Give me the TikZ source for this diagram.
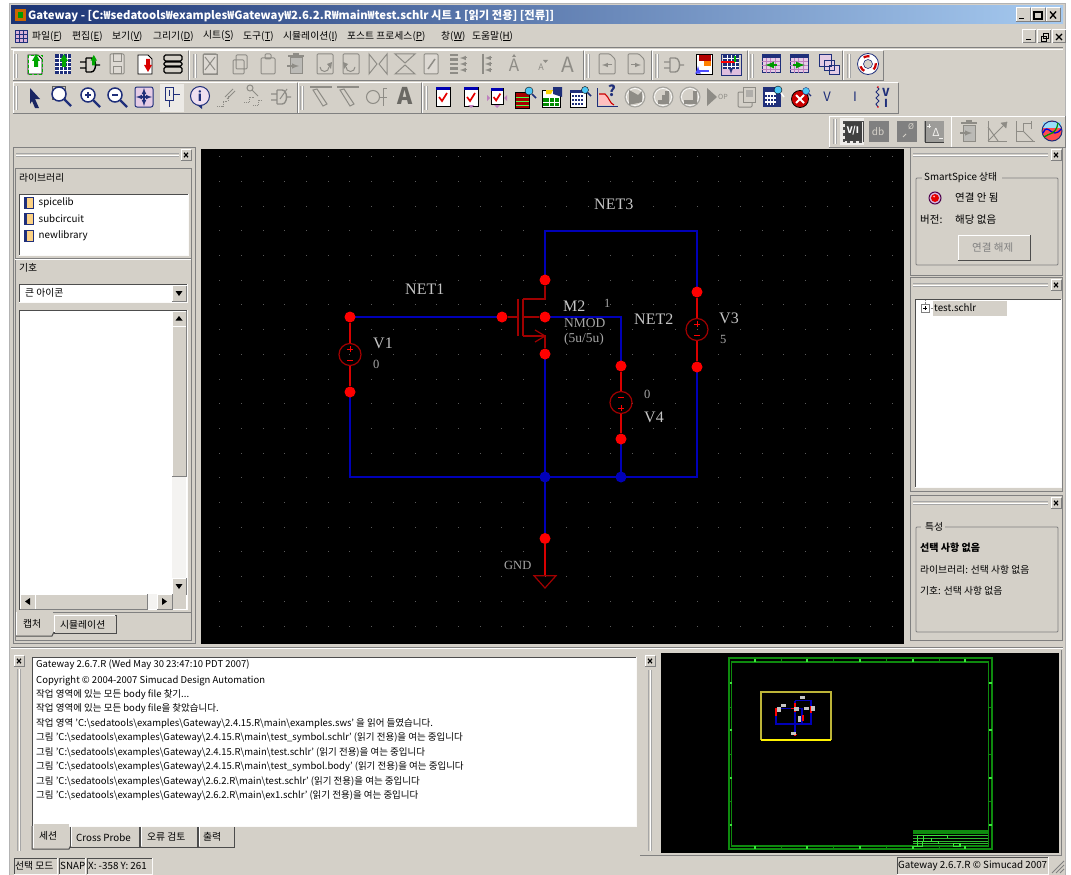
\documentclass[tikz,border=0pt]{standalone}
\usepackage{fontspec}
\setmainfont{Noto Sans CJK KR}
\newfontfamily\schfont{Liberation Serif}
\usetikzlibrary{calc}
\definecolor{uibg}{HTML}{D4D0C8}
\definecolor{uidk}{HTML}{808080}
\definecolor{uinavy}{HTML}{1F2F7A}
\definecolor{uigray}{HTML}{8E8C86}
\definecolor{pinred}{HTML}{FF0000}
\definecolor{symred}{HTML}{A00000}
\definecolor{wireblue}{HTML}{0000B8}
\definecolor{labelgray}{HTML}{C4C4C4}
\definecolor{gridgray}{HTML}{5A5A5A}
\definecolor{mgreen}{HTML}{0E8A0E}
\definecolor{lgreen}{HTML}{3CE63C}
\definecolor{titleL}{HTML}{1B3373}
\definecolor{titleR}{HTML}{A6CAF0}
\tikzset{
  ui/.style={inner sep=0pt,anchor=west,font=\fontsize{9.8}{11}\selectfont,text=black},
  uib/.style={ui,font=\fontsize{10}{11}\selectfont\bfseries},
  uil/.style={ui,font=\fontsize{9.5}{11}\selectfont},
  uir/.style={ui,font=\fontsize{10.5}{12}\selectfont},
  uig/.style={uir,text=uidk},
  sch/.style={inner sep=0pt,anchor=west,font=\fontsize{16}{18}\schfont,text=labelgray},
  schm/.style={inner sep=0pt,anchor=west,font=\fontsize{13.5}{15}\schfont,text=labelgray!85!black},
  schs/.style={inner sep=0pt,anchor=west,font=\fontsize{12.5}{14}\schfont,text=labelgray!85!black},
  pin/.style={circle,fill=pinred,draw=none,minimum size=11pt,inner sep=0pt},
  jun/.style={circle,fill=wireblue,draw=none,minimum size=11pt,inner sep=0pt},
  wire/.style={draw=wireblue,line width=1.2pt},
  redw/.style={draw=pinred!85!black,line width=1.2pt},
  sym/.style={draw=symred,line width=1.2pt},
  ic/.style={draw=uigray,line width=1pt},
  icd/.style={draw=uinavy,line width=1pt},
}
\newcounter{uicnt}
\newcommand{\UI}[4][ui]{\stepcounter{uicnt}\node[#1] (t\arabic{uicnt}) at (#2,#3) {#4};}
\newcommand{\raisedbox}[4]{%
  \fill[uibg] (#1,#2) rectangle (#3,#4);
  \draw[white,line width=1pt] (#1,#4) -- (#1,#2) -- (#3,#2);
  \draw[uidk,line width=1pt] (#3,#2) -- (#3,#4) -- (#1,#4);}
\newcommand{\sunkbox}[5][white]{%
  \fill[#1] (#2,#3) rectangle (#4,#5);
  \draw[uidk!60!black,line width=1pt] (#2,#5) -- (#2,#3) -- (#4,#3);
  \draw[white!90!uibg,line width=1pt] (#4,#3) -- (#4,#5) -- (#2,#5);}
\newcommand{\closebtn}[2]{%
  \raisedbox{#1-5}{#2-5.5}{#1+5}{#2+5.5}
  \draw[black,line width=1.2pt] (#1-2,#2-2.2) -- (#1+2,#2+2.2) (#1+2,#2-2.2) -- (#1-2,#2+2.2);}
\newcommand{\hgrip}[3]{% x1 x2 y
  \draw[uidk!70,line width=.6pt] (#1,#3-1.5) -- (#2,#3-1.5) (#1,#3+1.5) -- (#2,#3+1.5);
  \draw[white,line width=.8pt] (#1,#3) -- (#2,#3);}
\newcommand{\vgrip}[3]{% x y1 y2
  \draw[uidk!70,line width=.6pt] (#1-1.5,#2) -- (#1-1.5,#3) (#1+1.5,#2) -- (#1+1.5,#3);
  \draw[white,line width=.8pt] (#1,#2) -- (#1,#3);}
\newcommand{\groupbox}[4]{\draw[uidk,line width=.8pt,rounded corners=1pt] (#1,#2) rectangle (#3,#4);}
% icons: #1 x centre, #2 y centre
\newcommand{\icon}[3]{\begin{scope}[shift={(#1,#2)}]#3\end{scope}}
\newcommand{\uparr}[1]{\fill[#1] (-3,-3) -- (1,-10) -- (5,-3) -- (3,-3) -- (3,3) -- (-1,3) -- (-1,-3) -- cycle;}
\newcommand{\icpage}{\draw[black,line width=.8pt,fill=white] (-7,-9) -- (3,-9) -- (7,-5) -- (7,10) -- (-7,10) -- cycle;}
\newcommand{\icplug}[1]{\draw[#1,line width=1.4pt] (-10,-3) -- (-4,-3) (-10,3) -- (-4,3) (-4,-7) -- (-4,7) (-4,-7) -- (1,-7) .. controls (7,-7) and (7,7) .. (1,7) -- (-4,7) (5,0) -- (10,0);}
\newcommand{\icgrid}[1]{\fill[#1] (-8,-10) rectangle (8,10);
  \draw[white,line width=.4pt] (-8,-6) -- (8,-6) (-8,-2) -- (8,-2) (-8,2) -- (8,2) (-8,6) -- (8,6) (-4,-10) -- (-4,10) (0,-10) -- (0,10) (4,-10) -- (4,10);}
\newcommand{\icgpage}{\draw[ic,rounded corners=1pt,fill=uibg!80!white] (-7,-10) rectangle (7,10);}
\newcommand{\iccheck}{\draw[black,line width=.8pt,fill=white] (-7,-10) rectangle (7,9);
  \fill[blue!70!black] (-7,-10) rectangle (7,-7);
  \draw[red!90!black,line width=1.7pt] (-4,0) -- (-1,4) -- (4,-4);}
\newcommand{\icviolet}[1]{\draw[uinavy,line width=1pt,fill=violet!20!white] (-9,-9) rectangle (9,9);
  \fill[uinavy] (-9,-9) rectangle (9,-6);
  \draw[violet!50,line width=.3pt] (-9,-3) -- (9,-3) (-9,1) -- (9,1) (-9,5) -- (9,5) (-5,-6) -- (-5,9) (-1,-6) -- (-1,9) (4,-6) -- (4,9);#1}
\newcommand{\icmag}[1]{\draw[uinavy,line width=1.5pt,fill=white] (-2,-2) circle (7); \draw[uinavy,line width=2.4pt] (3,3) -- (10,10);#1}
\begin{document}
\begin{tikzpicture}[x=1pt,y=-1pt]
\useasboundingbox (0,0) rectangle (1071,875);
\fill[white] (0,0) rectangle (1071,875);
%% window
\fill[uibg] (9,3) rectangle (1065,875);
\draw[uidk!60,line width=.8pt] (9,875) -- (9,3) -- (1065,3) -- (1065,875);
\shade[left color=titleL,right color=titleR] (11,6) rectangle (1063,24);
\fill[orange!80!black] (15,9) rectangle (26,21);
\fill[green!60!black] (18,12) rectangle (23,18);
\UI[uib]{28}{15.5}{\fontsize{11.3}{13}\selectfont\color{white}Gateway - [C:₩sedatools₩examples₩Gateway₩2.6.2.R₩main₩test.schlr 시트 1 [읽기 전용] [전류]]}
\foreach \bx in {1023,1038,1053}{\raisedbox{\bx-7}{8}{\bx+7}{22}}
\draw[black,line width=1.6pt] (1019,18.5) -- (1024,18.5);
\draw[black,line width=1.1pt] (1034,12) rectangle (1042,19);
\draw[black,line width=1.3pt] (1050,11.5) -- (1056,18.5) (1056,11.5) -- (1050,18.5);
%% menu
\icon{21}{36}{\fill[violet!30] (-6,-6) rectangle (6,6);\draw[uinavy,line width=.4pt] (-6,-6) rectangle (6,6) (-6,-2) -- (6,-2) (-6,2) -- (6,2) (-2,-6) -- (-2,6) (2,-6) -- (2,6);}
\UI{32}{36}{파일(\underline{F})}
\UI{72}{36}{편집(\underline{E})}
\UI{112}{36}{보기(\underline{V})}
\UI{153}{36}{그리기(\underline{D})}
\UI{203}{36}{시트(\underline{S})}
\UI{243}{36}{도구(\underline{T})}
\UI{283}{36}{시뮬레이션(\underline{I})}
\UI{347}{36}{포스트 프로세스(\underline{P})}
\UI{441}{36}{창(\underline{W})}
\UI{472}{36}{도움말(\underline{H})}
\foreach \bx in {1029,1044,1059}{\raisedbox{\bx-6.5}{30}{\bx+6.5}{43}}
\draw[black,line width=1.5pt] (1026,39.5) -- (1031,39.5);
\draw[black,line width=.9pt] (1041,36) rectangle (1046,41) (1043,33.5) rectangle (1048,38.5);
\draw[black,line width=1.2pt] (1056,34) -- (1062,40) (1062,34) -- (1056,40);
\draw[uidk,line width=1pt] (11,48) -- (1063,48); \draw[white,line width=1pt] (11,49.2) -- (1063,49.2);
%% toolbar bands
\foreach \a/\b in {13/188,189/583,584/651,652/747,748/842,843/883}{\raisedbox{\a}{51}{\b}{81}}
\foreach \a/\b in {13/297,298/421,422/898}{\raisedbox{\a}{83}{\b}{113}}
\raisedbox{829}{116}{951}{147}
\raisedbox{951}{116}{1065}{147}
\foreach \gx in {16,195,588,657,752,849}{\vgrip{\gx}{54}{78}}
\foreach \gx in {16,302,426}{\vgrip{\gx}{86}{110}}
\vgrip{835}{119}{144}
%% row 1
\icon{35}{64}{\icpage\draw[green!70!black,densely dashed,line width=.8pt] (-7,-9) rectangle (7,10);\uparr{green!65!black}}
\icon{63}{64}{\icgrid{uinavy}\uparr{green!65!black}}
\icon{90}{65}{\icplug{black}\begin{scope}[shift={(3,-2)},scale=.8]\uparr{green!65!black}\end{scope}}
\icon{117}{64}{\icgpage\draw[ic] (-4,-10) rectangle (4,-2) (-4,3) rectangle (4,10);}
\icon{145}{64}{\icpage\begin{scope}[yscale=-1,shift={(2,2)}]\uparr{red!85!black}\end{scope}}
\icon{173}{64}{\draw[black,line width=1.2pt,rounded corners=1.5pt] (-9,-9) rectangle (9,-3) (-9,-2) rectangle (9,2) (-9,3) rectangle (9,9);}
\icon{210}{64}{\icgpage\draw[ic] (-5,-7) -- (5,6) (5,-7) -- (-5,6);\draw[ic,line width=.5pt] (-7,-10) rectangle (7,10);}
\icon{240}{64}{\draw[ic,rounded corners=1pt] (-4,-9) rectangle (7,5) (-7,-4) rectangle (4,10);}
\icon{268}{64}{\draw[ic,rounded corners=1pt] (-7,-6) rectangle (7,10) (-3,-10) rectangle (3,-5);}
\icon{296}{64}{\draw[ic,fill=uigray!60] (-6,-6) rectangle (6,10);\draw[ic,line width=1.6pt] (-8,-8) -- (8,-8) (-3,-10) -- (3,-10);\draw[uigray,line width=1.4pt,-latex] (-9,2) -- (3,2);}
\icon{324}{64}{\draw[ic,rounded corners=1pt] (-7,-10) rectangle (9,10);\draw[ic] (-4,3) arc (180:0:4.5);\fill[uigray] (3,0) -- (7,5) -- (8,-2) -- cycle;}
\icon{351}{64}{\draw[ic,rounded corners=1pt] (-8,-10) rectangle (8,10);\draw[ic] (4,3) arc (0:180:4.5);\fill[uigray] (-3,0) -- (-7,5) -- (-8,-2) -- cycle;}
\icon{378}{64}{\draw[ic] (-9,-10) -- (-9,10) -- (-1,0) -- cycle (9,-10) -- (9,10) -- (1,0) -- cycle;}
\icon{405}{64}{\draw[ic] (-10,-10) -- (10,-10) -- (0,-1) -- cycle (-10,10) -- (10,10) -- (0,1) -- cycle;}
\icon{431}{64}{\icgpage\draw[ic,line width=1.5pt] (-3,5) -- (4,-5);}
\icon{459}{64}{\draw[ic,line width=2.6pt] (-9,-9) -- (-1,-9) (-9,-4.5) -- (-1,-4.5) (-9,0) -- (-1,0) (-9,4.5) -- (-1,4.5) (-9,9) -- (-1,9);\draw[uigray,line width=1pt,-latex] (8,-6) -- (1,-6);\draw[uigray,line width=1pt,-latex] (8,0) -- (1,0);\draw[uigray,line width=1pt,-latex] (8,6) -- (1,6);}
\icon{488}{64}{\draw[ic,line width=1.3pt] (-5,-10) -- (-5,10);\draw[uigray,line width=1pt,-latex] (4,-6) -- (-3,-6);\draw[uigray,line width=1pt,-latex] (4,0) -- (-3,0);\draw[uigray,line width=1pt,-latex] (4,6) -- (-3,6);}
\icon{514}{65}{\node[inner sep=0pt,text=uigray,font=\fontsize{17}{17}\selectfont] (ia1) at (0,0) {A};\fill[uigray] (-2,-8) -- (2,-8) -- (0,-11) -- cycle;}
\icon{541}{67}{\node[inner sep=0pt,text=uigray,font=\fontsize{9}{9}\selectfont] (ia2) at (0,0) {A};\fill[uigray] (2,-7) -- (7,-7) -- (4.5,-4) -- cycle;}
\icon{568}{65}{\node[inner sep=0pt,text=uigray,font=\fontsize{21}{21}\selectfont] (ia3) at (0,0) {A};}
\icon{607}{64}{\draw[ic,rounded corners=1pt] (-8,-10) -- (3,-10) -- (8,-5) -- (8,10) -- (-8,10) -- cycle;\draw[uigray,line width=1pt,-latex] (5,1) -- (-5,1);}
\icon{636}{64}{\draw[ic,rounded corners=1pt] (-8,-10) -- (3,-10) -- (8,-5) -- (8,10) -- (-8,10) -- cycle;\draw[uigray,line width=1pt,-latex] (-5,1) -- (5,1);}
\icon{674}{65}{\icplug{uigray}}
\icon{704}{64}{\draw[black,line width=.8pt,fill=white] (-8,-10) rectangle (8,10);\fill[red!70!black] (-5,-9) rectangle (7,-3);\fill[orange] (0,-3) rectangle (7,2);\draw[blue!70,line width=1.6pt,-latex] (5,7) -- (-6,7) -- (-6,2);}
\icon{731}{64}{\icgrid{uinavy}\fill[violet!25] (-10,5) rectangle (10,11);\draw[uinavy] (-10,-10) rectangle (10,11);\draw[red,line width=1.7pt] (-10,-2) -- (4,-2);\draw[green!70!black,line width=1.7pt] (4,-2) -- (4,-8);\draw[uinavy,line width=1pt,-latex] (0,5) -- (0,10);}
\icon{771}{64}{\icviolet{\draw[green!60!black,line width=2pt,-latex] (6,1) -- (-6,1);}}
\icon{799}{64}{\icviolet{\draw[green!60!black,line width=2pt,-latex] (-6,1) -- (6,1);}}
\icon{829}{64}{\draw[uinavy,line width=.8pt,fill=violet!20!white] (-10,-10) rectangle (2,2) (-5,-4) rectangle (5,6) (0,1) rectangle (10,10);}
\icon{868}{64}{\draw[uinavy,line width=.8pt,fill=white] circle (10.5);\draw[red!80!black,line width=2.2pt,dash pattern=on 6pt off 10pt] circle (7.8);\fill[uibg] circle (4.5);\draw[uinavy,line width=.6pt] circle (4.5);}
%% row 2
\icon{34}{98}{\fill[uinavy!80!black] (-4,-10) -- (6,1) -- (1,1) -- (5,10) -- (1,10) -- (-2,3) -- (-4,6) -- cycle;}
\icon{61}{96}{\draw[uidk!70!black,line width=.8pt] (-9,-10) rectangle (4,3);\icmag{}}
\icon{90}{97}{\icmag{\draw[uinavy,line width=1.5pt] (-5,-2) -- (1,-2) (-2,-5) -- (-2,1);}}
\icon{117}{97}{\icmag{\draw[uinavy,line width=1.5pt] (-5,-2) -- (1,-2);}}
\icon{144}{97}{\draw[uinavy,line width=1pt,fill=violet!20!white,rounded corners=2pt] (-9,-10) rectangle (9,10);\draw[uinavy,line width=1.1pt,latex-latex] (-8,0) -- (8,0);\draw[uinavy,line width=1.1pt,latex-latex] (0,-9) -- (0,9);}
\fill[white!55!uibg] (160,84) rectangle (184,112);
\icon{171}{97}{\draw[uinavy,line width=1pt] (-6,-10) rectangle (2,3);\draw[uinavy,line width=1pt] (-2,-7) -- (-2,-1) (2,-3) -- (9,-3) (-2,3) -- (-2,10);}
\icon{200}{96}{\draw[uinavy,line width=1pt,fill=violet!12!white] circle (9.5);\node[inner sep=0pt,text=uinavy,font=\fontsize{13}{13}\selectfont\bfseries] (ii) at (0,0) {i};\fill[uinavy] (-3,9) -- (2,9) -- (2,13) -- cycle;}
\icon{226}{97}{\draw[ic,line width=.8pt,densely dotted] (-9,9) -- (-3,9) -- (-3,4) -- (2,4) -- (2,-1);\draw[ic] (-1,0) -- (7,-8);\draw[ic] (1,2) -- (9,-6);}
\icon{253}{97}{\draw[ic,line width=.8pt,densely dotted] (-9,5) -- (-4,5) -- (-4,0) -- (1,0);\draw[ic,line width=.8pt,densely dotted] (0,8) -- (5,8) -- (5,3) -- (9,3);\draw[ic] (-3,-9) circle (3);\draw[ic] (-1,-7) -- (5,-1);}
\icon{281}{97}{\icplug{uigray}\draw[ic] (-1,2) -- (6,-8);}
\icon{321}{97}{\draw[ic,line width=1.4pt] (-11,-10) -- (11,-10);\draw[ic] (-8,-7) -- (2,9) -- (6,7) -- (-4,-8) -- cycle;}
\icon{348}{97}{\draw[ic,line width=2pt] (-11,-10) -- (11,-10);\draw[ic] (-8,-7) -- (2,9) -- (6,7) -- (-4,-8) -- cycle;}
\icon{376}{97}{\draw[ic] (-3,0) circle (6.5);\draw[ic] (3.5,0) -- (11,0) (7,0) -- (7,-9) -- (11,-9) (7,0) -- (7,9);}
\icon{405}{96}{\node[inner sep=0pt,text=uigray!75!black,font=\fontsize{23}{23}\selectfont\bfseries] (ia4) at (0,0) {A};}
\icon{443}{97}{\iccheck}
\icon{471}{97}{\iccheck\fill[violet!50] (-3,8) -- (3,8) -- (0,11) -- cycle;}
\icon{497}{97}{\begin{scope}[scale=.85]\iccheck\end{scope}\fill[violet!50] (-10,-2) -- (-7,1) -- (-10,4) -- cycle (10,-2) -- (7,1) -- (10,4) -- cycle (-3,8) -- (3,8) -- (0,11) -- cycle;}
\icon{524}{98}{\fill[red!65!black] (-9,-6) rectangle (5,10);\draw[green!70,line width=.5pt] (-9,-1) -- (5,-1) (-9,3) -- (5,3) (-9,7) -- (5,7);\draw[black,line width=.7pt] (-9,-6) rectangle (5,10);\fill[cyan!70] (5,-7) circle (4);\draw[black] (5,-7) circle (4);\draw[uinavy,line width=1.5pt] (8,-4) -- (12,0);}
\icon{551}{97}{\draw[black,line width=.8pt,fill=white] (-9,-7) rectangle (9,10);\fill[green!55!black] (-8,1) rectangle (8,9);\draw[white,line width=.8pt] (-8,5) -- (8,5) (-2,1) -- (-2,9) (3,1) -- (3,9);\fill[uinavy] (2,-10) -- (11,-10) -- (11,0) -- (2,-3) -- cycle;\fill[yellow!70!orange] (-5,-7) -- (2,-7) -- (0,-3) -- (-5,-3) -- cycle;}
\icon{579}{97}{\draw[black,line width=.8pt,fill=white] (-9,-7) rectangle (7,10);\fill[uinavy] (-9,-7) rectangle (7,-4);\draw[uinavy,line width=1.2pt,dash pattern=on 2pt off 1pt] (-7,-1) -- (5,-1) (-7,3) -- (5,3) (-7,7) -- (5,7);\fill[cyan!70] (6,-7) circle (3.5);\draw[black] (6,-7) circle (3.5);\draw[uinavy,line width=1.5pt] (8.5,-4.5) -- (12,-1);}
\icon{607}{97}{\fill[red!25] (-8,-3) -- (-2,-3) .. controls (2,0) and (3,7) .. (7,8) -- (-8,8) -- cycle;\draw[red!80!black,line width=1.1pt] (-8,-3) -- (-2,-3) .. controls (2,0) and (3,7) .. (7,8);\draw[uinavy,line width=1pt] (-10,-9) -- (-10,9) -- (11,9);\node[inner sep=0pt,text=uinavy,font=\fontsize{15}{15}\selectfont\bfseries] (iq) at (5,-6) {?};}
\foreach \cx in {635,663,690}{\icon{\cx}{97}{\draw[uigray!80,line width=1pt,fill=uibg] circle (10);\draw[white,line width=.7pt] circle (8.5);}}
\icon{635}{97}{\fill[uigray] (-6,-7) -- (3,-2) -- (7,-6) -- (7,5) -- (-6,8) -- cycle;}
\icon{663}{97}{\fill[uigray] (-5,7) -- (-5,3) -- (-1,3) -- (-1,-2) -- (2,-2) -- (2,-6) -- (6,-6) -- (6,7) -- cycle;}
\icon{690}{97}{\fill[uigray] (-6,7) -- (-6,3) -- (3,3) -- (3,-6) -- (7,-6) -- (7,7) -- cycle;}
\icon{716}{97}{\fill[uigray] (-9,-9) -- (1,0) -- (-9,9) -- cycle;\node[inner sep=0pt,text=uigray,font=\fontsize{7}{7}\selectfont] (iop) at (7,0) {OP};}
\icon{746}{97}{\draw[ic,rounded corners=1pt] (-8,-5) rectangle (6,10);\draw[ic,fill=uibg] (-3,-10) rectangle (9,5);\fill[uigray!70] (0,-7) rectangle (7,0);}
\icon{773}{97}{\fill[uinavy] (-10,-10) rectangle (8,10);\fill[white] (-8,-5) rectangle (3,8);\draw[uinavy,line width=1.2pt,dash pattern=on 2pt off 1pt] (-8,-1) -- (3,-1) (-8,3) -- (3,3) (-8,7) -- (3,7);\fill[cyan!70] (5,-7) circle (4);\draw[black] (5,-7) circle (4);\draw[white,line width=1.5pt] (8,-4) -- (11,0);}
\icon{800}{99}{\fill[red!80!black] circle (8.5);\draw[black,line width=.8pt] circle (8.5);\draw[white,line width=2pt] (-4,-4) -- (4,4) (4,-4) -- (-4,4);\fill[cyan!70] (6,-8) circle (3.5);\draw[uinavy] (6,-8) circle (3.5);\draw[uinavy,line width=1.2pt] (8.5,-5.5) -- (11,-3);}
\icon{827}{97}{\node[inner sep=0pt,text=uinavy,font=\fontsize{13}{13}\selectfont] (iv) at (0,0) {V};}
\icon{855}{97}{\node[inner sep=0pt,text=uinavy,font=\fontsize{13}{13}\selectfont] (ii2) at (0,0) {I};}
\icon{882}{97}{\draw[uinavy,line width=1pt] (-5,-10) -- (-3,-8) -- (-6,-5) -- (-3,-2) -- (-6,1) -- (-3,4) -- (-6,7) -- (-4,10);\fill[red] (-4,-10) circle (.9) (-4,10) circle (.9);\node[inner sep=0pt,text=uinavy,font=\fontsize{11}{11}\selectfont\bfseries] (iv2) at (4,-5) {V};\node[inner sep=0pt,text=uinavy,font=\fontsize{11}{11}\selectfont\bfseries] (ii3) at (4,6) {I};}
%% row 3
\fill[white!60!uibg] (840,118) rectangle (864,145);
\icon{853}{131}{\draw[black!70,line width=1.3pt,dashed] (-9,-10) -- (-9,11) -- (10,11);\draw[black!70,line width=1pt] (-9,-10) -- (10,-10) -- (10,11);\fill[uidk!50!black] (-8,-9) rectangle (9,10);\node[inner sep=0pt,text=white,font=\fontsize{9}{9}\selectfont\bfseries] (ivi) at (0,0) {V/I};}
\icon{879}{131}{\fill[uidk] (-10,-10) rectangle (10,11);\node[inner sep=0pt,text=uibg,font=\fontsize{10}{10}\selectfont] (idb) at (-1,1) {db};}
\icon{907}{131}{\fill[uidk] (-10,-10) rectangle (10,11);\draw[uibg,line width=1pt] (-4,6) -- (-1,3);\node[inner sep=0pt,text=uibg,font=\fontsize{8}{8}\selectfont] (ip) at (4,-4) {Ø};}
\icon{934}{131}{\fill[uidk!65!uibg] (-10,-10) rectangle (10,11);\draw[uidk!50!black,line width=1pt] (-9,-10) -- (-9,11) -- (10,11);\node[inner sep=0pt,text=uibg!30!white,font=\fontsize{11}{11}\selectfont] (id) at (2,1) {Δ};\draw[uibg!30!white,line width=.8pt] (-7,-5) -- (-3,-5) (-5,-7) -- (-5,-3);\draw[uibg!30!white,line width=.8pt] (5,7) -- (9,7);}
\icon{969}{131}{\draw[ic,fill=uigray!60] (-6,-6) rectangle (6,10);\draw[ic,line width=1.6pt] (-8,-8) -- (8,-8) (-3,-10) -- (3,-10);\draw[uigray,line width=1.4pt,-latex] (-9,2) -- (3,2);}
\icon{997}{131}{\draw[ic] (-9,-10) -- (-9,10) -- (10,10);\draw[ic] (-9,10) -- (10,-9);\draw[ic] (-9,-4) -- (1,10);\draw[uigray,fill=uigray] (10,-9) -- (4,-8) -- (9,-3) -- cycle;}
\icon{1025}{131}{\draw[ic] (-9,-10) -- (-9,10) -- (10,10);\draw[ic] (-9,0) -- (-2,0) -- (-2,-8) -- (6,-8);\draw[ic] (-2,0) -- (8,10);\draw[ic] (6,-10) -- (6,-2);}
\icon{1052}{131}{\fill[red!70] circle (10);\fill[cyan!40] (-9,-3) rectangle (9,-9);\draw[uinavy,line width=1pt] circle (10);\draw[blue!90!black,line width=1.3pt] (-9,2) .. controls (-4,-10) and (0,10) .. (9,-2);\draw[green!60!black,line width=1.3pt] (-8,6) .. controls (-3,2) and (4,4) .. (6,-8);}
%% left panel
\draw[uidk,line width=1pt] (13,147) rectangle (195,643);
\hgrip{16}{179}{155}
\closebtn{186}{155}
\draw[uidk,line width=1pt] (15,168) rectangle (191,640);
\UI{19}{178}{라이브러리}
\sunkbox{19}{194}{188}{255}
\foreach \ly/\ltxt in {203/spicelib,219/subcircuit,236/newlibrary}{
  \fill[uinavy] (24,\ly-6) rectangle (34,\ly+6);
  \fill[yellow!25!orange!45!white] (27,\ly-5) rectangle (33,\ly+5);
  \UI{38.5}{\ly}{\ltxt}}
\draw[uidk,line width=1pt] (15,258) -- (191,258); \draw[white,line width=1pt] (15,259.2) -- (191,259.2);
\UI{19}{268}{기호}
\sunkbox{19}{284}{187}{302}
\UI{25}{293}{큰 아이콘}
\raisedbox{172}{285.5}{186}{301}
\fill[black] (175.5,291) -- (182.5,291) -- (179,296) -- cycle;
\sunkbox{19}{310}{187}{610}
\fill[uibg] (172,311) rectangle (186,594);
\fill[white!75!uibg] (172,476) rectangle (186,578);
\raisedbox{172}{311}{186}{326}
\fill[black] (175.5,320.5) -- (182.5,320.5) -- (179,316) -- cycle;
\raisedbox{172}{326}{186}{476}
\raisedbox{172}{578}{186}{594}
\fill[black] (175.5,584) -- (182.5,584) -- (179,589) -- cycle;
\fill[uibg] (20,594) rectangle (186,609);
\fill[white!75!uibg] (147,594) rectangle (157,609);
\raisedbox{20}{594}{35}{609}
\fill[black] (30,598) -- (30,605) -- (25,601.5) -- cycle;
\raisedbox{35}{594}{147}{609}
\raisedbox{157}{594}{172}{609}
\fill[black] (162,598) -- (162,605) -- (167,601.5) -- cycle;
\fill[uibg] (16,610) rectangle (190,639);
\draw[uidk,line width=1pt] (15,612) -- (191,612);
\fill[uibg] (16.5,610) rectangle (52.5,636);
\draw[white,line width=1pt] (16,612) -- (16,635);
\draw[black!70,line width=1pt] (16,636) -- (52,636) -- (54,632);
\draw[black!70,line width=1pt] (54,615) -- (54,633) -- (116,633) -- (116,615) -- (54,615);
\fill[uibg] (54.5,615.5) rectangle (115.5,632.5);
\draw[white,line width=1pt] (54.6,632) -- (54.6,615.6) -- (115,615.6);
\UI{23}{623.5}{캡처}
\UI{60}{624.5}{시뮬레이션}
%% canvas
\fill[black] (201,149) rectangle (904,644);
\foreach \gi in {0,...,31}{\foreach \gj in {0,...,19}{
  \fill[gridgray] ({219.7+21.7*\gi-.5},{156.7+24.7*\gj-.5}) rectangle +(1,1);}}
%% schematic
\coordinate (n3l) at (545,231);
\coordinate (n3r) at (697,231);
\coordinate (n2r) at (621,317);
\coordinate (bl) at (350,477);
\coordinate (br) at (697,477);
\coordinate (pv1t) at (350,317);
\coordinate (pv1b) at (350,392);
\coordinate (pmg) at (502,317);
\coordinate (pmd) at (545,280);
\coordinate (pmb) at (545,317);
\coordinate (pms) at (545,354);
\coordinate (pv3t) at (697,292);
\coordinate (pv3b) at (697,367);
\coordinate (pv4t) at (621,366);
\coordinate (pv4b) at (621,439);
\coordinate (pgt) at (545,538.5);
\coordinate (pj1) at (545,477);
\coordinate (pj2) at (621,477);
\draw[wire] (pv1t) -- (pmg);
\draw[wire] (pmd) -- (n3l) -- (n3r) -- (pv3t);
\draw[wire] (pmb) -- (n2r) -- (pv4t);
\draw[wire] (pv1b) -- (bl) -- (pj1);
\draw[wire] (pj1) -- (pj2);
\draw[wire] (pj2) -- (br) -- (pv3b);
\draw[wire] (pms) -- (pj1);
\draw[wire] (pj1) -- (pgt);
\draw[wire] (pj2) -- (pv4b);
\node[pin] (v1t) at (pv1t) {};
\node[pin] (v1b) at (pv1b) {};
\node[pin] (mg) at (pmg) {};
\node[pin] (md) at (pmd) {};
\node[pin] (mb) at (pmb) {};
\node[pin] (ms) at (pms) {};
\node[pin] (v3t) at (pv3t) {};
\node[pin] (v3b) at (pv3b) {};
\node[pin] (v4t) at (pv4t) {};
\node[pin] (v4b) at (pv4b) {};
\node[pin] (gt) at (pgt) {};
\node[jun] (j1) at (pj1) {};
\node[jun] (j2) at (pj2) {};
% sources
\node[circle,draw=symred,line width=1.2pt,minimum size=22pt,inner sep=0pt] (sv1) at (350,354.5) {};
\node[circle,draw=symred,line width=1.2pt,minimum size=22pt,inner sep=0pt] (sv3) at (697,329.5) {};
\node[circle,draw=symred,line width=1.2pt,minimum size=22pt,inner sep=0pt] (sv4) at (621,402.5) {};
\draw[redw] (v1t) -- (sv1); \draw[redw] (sv1) -- (v1b);
\draw[redw] (v3t) -- (sv3); \draw[redw] (sv3) -- (v3b);
\draw[redw] (v4t) -- (sv4); \draw[redw] (sv4) -- (v4b);
\draw[pinred,line width=1pt] (347,349) -- (353,349) (350,346) -- (350,352) (347,360) -- (353,360);
\draw[pinred,line width=1pt] (694,324) -- (700,324) (697,321) -- (697,327) (694,335) -- (700,335);
\draw[pinred,line width=1pt] (618,397) -- (624,397) (618,408) -- (624,408) (621,405) -- (621,411);
% mosfet
\coordinate (gbar) at (518,317);
\draw[sym] (mg) -- (gbar);
\draw[sym,line width=1.7pt] (518,299) -- (518,336);
\draw[sym] (523,299) -- (523,336);
\draw[sym] (523,299) -- (545,299) -- (md);
\draw[sym] (523,317) -- (mb);
\draw[sym] (523,336) -- (545,336) -- (ms);
\draw[sym] (535,330) -- (545,336) -- (535,342);
% gnd
\coordinate (gp) at (545,575.7);
\draw[redw] (gt) -- (gp);
\draw[sym] (534,575.7) -- (556,575.7) -- (545,588) -- cycle;
% schematic labels
\node[sch] (lnet3) at (594,204) {NET3};
\node[sch] (lnet1) at (405,289.5) {NET1};
\node[sch] (lnet2) at (634,319.5) {NET2};
\node[sch] (lm2) at (563,306) {M2};
\node[schs] (lone) at (604,303) {1};
\node[schm] (lnmod) at (564,323) {NMOD};
\node[schm] (lsz) at (564,339) {(5u/5u)};
\node[sch] (lv1) at (373,343) {V1};
\node[schs] (lv1v) at (373,364) {0};
\node[sch] (lv3) at (719,318) {V3};
\node[schs] (lv3v) at (720,339) {5};
\node[schs] (lv4v) at (644,394) {0};
\node[sch] (lv4) at (644,417) {V4};
\node[schs] (lgnd) at (504,565) {GND};
%% right panels
\draw[uidk,line width=1pt] (910,147) rectangle (1062,275);
\hgrip{913}{1048}{155}
\closebtn{1056}{155}
\groupbox{916}{178}{1058}{265}
\fill[uibg] (922,172) rectangle (1002,184);
\UI{924}{178}{SmartSpice 상태}
\draw[violet!60!black,line width=1pt,fill=violet!30] (935,198) circle (6);
\fill[red!90!black] (935,198) circle (4);
\fill[white!70!red] (934,196.5) circle (1);
\UI[uir]{955}{198}{연결 안 됨}
\UI[uir]{920}{220}{버전:}
\UI[uir]{955}{220}{해당 없음}
\raisedbox{958}{235}{1030}{260}
\draw[black!70,line width=1pt] (1030,235) -- (1030,260) -- (958,260);
\UI[uig]{972}{247.5}{연결 해제}
\draw[uidk,line width=1pt] (910,277) rectangle (1062,491);
\hgrip{913}{1048}{285}
\closebtn{1056}{285}
\sunkbox{915}{299}{1061}{487}
\fill[uibg] (933,300.5) rectangle (1007,316);
\draw[uidk,line width=.6pt,fill=white] (921,304) rectangle (929,312);
\draw[black,line width=.7pt] (923,308) -- (927,308) (925,306) -- (925,310);
\draw[uidk,line width=.6pt,densely dotted] (929,308) -- (933,308) (925,300) -- (925,304);
\UI{934}{308}{test.schlr}
\draw[uidk,line width=1pt] (910,495) rectangle (1062,640);
\hgrip{913}{1048}{503}
\closebtn{1056}{503}
\groupbox{916}{527}{1058}{632}
\fill[uibg] (921,521) rectangle (945,533);
\UI{925}{527}{특성}
\UI[uib]{920}{548}{선택 사항 없음}
\UI{920}{570}{라이브러리: 선택 사항 없음}
\UI{920}{591}{기호: 선택 사항 없음}
%% separator bottom
\draw[uidk,line width=1pt] (11,647) -- (1063,647);
\draw[white,line width=1pt] (11,648.2) -- (1063,648.2);
%% log panel
\closebtn{19}{661}
\vgrip{19}{669}{851}
\sunkbox{32}{657}{636}{826}
\UI[uil]{36}{665}{Gateway 2.6.7.R (Wed May 30 23:47:10 PDT 2007)}
\UI[uil]{36}{680.5}{Copyright © 2004-2007 Simucad Design Automation}
\UI[uil]{36}{695}{작업 영역에 있는 모든  body file 찾기...}
\UI[uil]{36}{709}{작업 영역에 있는 모든 body file을 찾았습니다.}
\UI[uil]{36}{723.5}{작업 영역 'C:\textbackslash sedatools\textbackslash examples\textbackslash Gateway\textbackslash 2.4.15.R\textbackslash main\textbackslash examples.sws' 을 읽어 들였습니다.}
\UI[uil]{36}{738}{그림 'C:\textbackslash sedatools\textbackslash examples\textbackslash Gateway\textbackslash 2.4.15.R\textbackslash main\textbackslash test\_symbol.schlr' (읽기 전용)을 여는 중입니다}
\UI[uil]{36}{752.5}{그림 'C:\textbackslash sedatools\textbackslash examples\textbackslash Gateway\textbackslash 2.4.15.R\textbackslash main\textbackslash test.schlr' (읽기 전용)을 여는 중입니다}
\UI[uil]{36}{767}{그림 'C:\textbackslash sedatools\textbackslash examples\textbackslash Gateway\textbackslash 2.4.15.R\textbackslash main\textbackslash test\_symbol.body' (읽기 전용)을 여는 중입니다}
\UI[uil]{36}{781.5}{그림 'C:\textbackslash sedatools\textbackslash examples\textbackslash Gateway\textbackslash 2.6.2.R\textbackslash main\textbackslash test.schlr' (읽기 전용)을 여는 중입니다}
\UI[uil]{36}{796}{그림 'C:\textbackslash sedatools\textbackslash examples\textbackslash Gateway\textbackslash 2.6.2.R\textbackslash main\textbackslash ex1.schlr' (읽기 전용)을 여는 중입니다}
\draw[black!70,line width=1pt] (32,826) -- (32,849) -- (69,849) -- (71,845);
\draw[white,line width=1pt] (33,826) -- (33,848);
\fill[uibg] (33.5,824) rectangle (68.5,826.5);
\foreach \ta/\tb in {70/139,140/197,198/234}{
  \fill[uibg] (\ta,827) rectangle (\tb,847);
  \draw[black!70,line width=1pt] (\ta,827) -- (\ta,847) -- (\tb,847) -- (\tb,827);
  \draw[white,line width=1pt] (\ta+1,827) -- (\ta+1,846);}
\UI{39}{836}{세션}
\UI{76}{838}{Cross Probe}
\UI{147}{837}{오류 검토}
\UI{203}{837}{출력}
%% minimap
\closebtn{650}{661}
\vgrip{650}{670}{851}
\fill[black] (661,653) rectangle (1059,853);
\draw[uidk,line width=1pt] (1061,650) -- (1061,855) -- (640,855);
\draw[mgreen,line width=1.2pt] (729,658) rectangle (992,849);
\draw[mgreen,line width=1.2pt] (731.5,662) rectangle (988.5,846);
\foreach \tx in {755,807,860,913,965}{\draw[lgreen,line width=1.4pt] (\tx,659) -- (\tx,662) (\tx,846) -- (\tx,849);}
\foreach \tx in {781,833,886,939}{\draw[mgreen,line width=1pt] (\tx,659) -- (\tx,662) (\tx,846) -- (\tx,849);}
\foreach \ty in {683,730,778,825}{\draw[lgreen,line width=1.4pt] (729.5,\ty) -- (731.5,\ty) (988.5,\ty) -- (991.5,\ty);}
\foreach \ty in {707,754,801}{\draw[mgreen,line width=1pt] (729.5,\ty) -- (731.5,\ty) (988.5,\ty) -- (991.5,\ty);}
\draw[mgreen,line width=1.2pt] (913,831) -- (988,831) (913,833) -- (988,833);
\draw[lgreen!80!black,line width=1pt] (913,835) -- (988,835) (913,838) -- (988,838) (913,841) -- (988,841) (913,843.5) -- (988,843.5);
\draw[lgreen,line width=1pt] (917,835) -- (947,835) -- (947,838) (917,835) -- (917,846) (923,835) -- (923,841) (931,838) -- (931,841) (922,841) -- (922,846) (913,846) -- (923,846) (953,843.5) rectangle (959,846) (959,843.5) rectangle (960,846) (913,841) -- (938,841) -- (938,843.5);
\draw[yellow!70!black,line width=1.2pt] (761,740) -- (761,692) -- (831,692) -- (831,740);
\draw[yellow,line width=1.2pt] (761,740) -- (831,740);
\draw[wireblue,line width=1.2pt] (776,708.5) -- (802,708.5) -- (802,724) -- (776,724) -- cycle;
\draw[wireblue,line width=1.2pt] (795,700.5) -- (811,700.5) -- (811,724) -- (795,724);
\draw[wireblue,line width=1.2pt] (795,700.5) -- (795,735);
\draw[red,line width=1.4pt] (776,708) -- (776,716) (791,708.5) -- (795,708.5) (795,703) -- (795,712) (811,706) -- (811,713) (803,715) -- (803,721);
\draw[red,line width=1.2pt] (795,733) -- (795,735.5) (793.5,734.5) -- (796.5,734.5);
\foreach \mx/\my/\mw/\mh in {783/705.5/4/2,802/697/4/2,796/709/4/2.5,806/708.5/4/2,793/733/4/2,799/719/2/5,779/709/3/4,813/708/3/4}{
  \fill[labelgray] ({\mx-\mw/2-.5},{\my-\mh/2-.5}) rectangle ({\mx+\mw/2+.5},{\my+\mh/2+.5});}
%% status bar
\sunkbox[uibg]{14}{858}{57}{874}
\sunkbox[uibg]{59}{858}{85}{874}
\sunkbox[uibg]{87}{858}{152}{874}
\sunkbox[uibg]{897}{857}{1048}{874}
\UI{15}{866}{선택 모드}
\UI{60}{866}{SNAP}
\UI{88}{866}{X: -358 Y: 261}
\UI{898}{866}{Gateway 2.6.7.R © Simucad 2007}
\foreach \gd in {4,8,12}{\draw[uidk,line width=1pt] (1064-\gd,873) -- (1064,873-\gd);}
\end{tikzpicture}
\end{document}
